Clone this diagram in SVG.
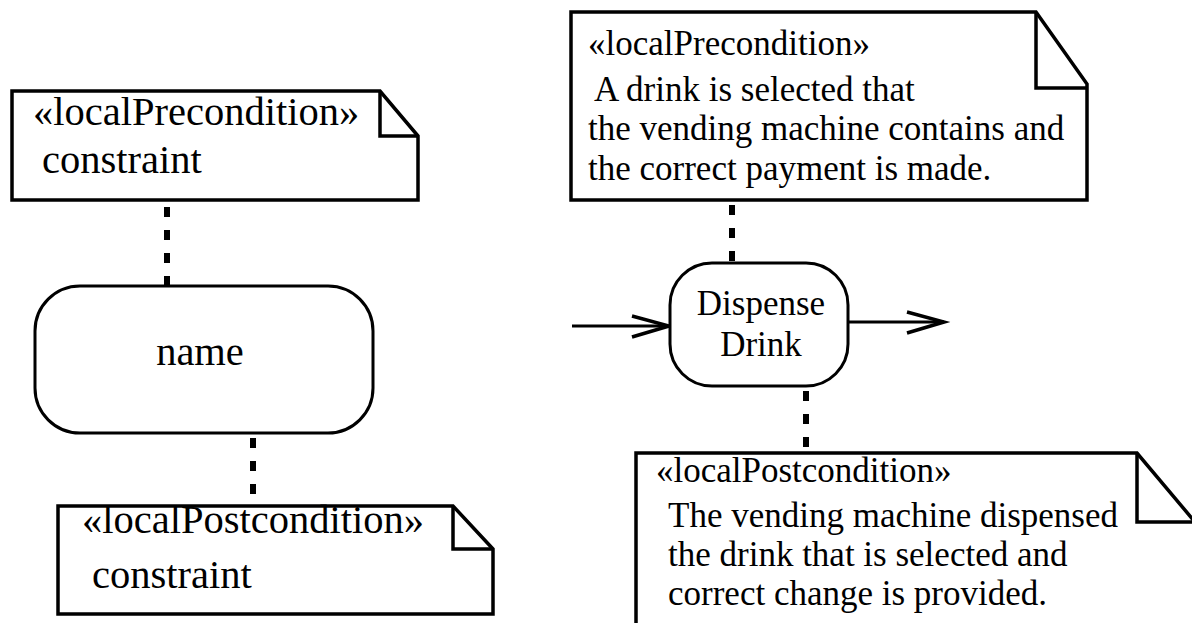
<svg xmlns="http://www.w3.org/2000/svg" width="1192" height="623" viewBox="0 0 1192 623">
<style>
.note{fill:#fff;stroke:#000;stroke-width:3.5;stroke-linejoin:miter}
.fold{fill:none;stroke:#000;stroke-width:3.5}
.act{fill:#fff;stroke:#000;stroke-width:3}
.dot{fill:none;stroke:#000;stroke-width:6;stroke-dasharray:10 13}
.flow{fill:none;stroke:#000;stroke-width:3}
.head{fill:none;stroke:#000;stroke-width:3.5;stroke-linejoin:miter}
text{font-family:'Liberation Serif','Times New Roman',serif;fill:#000}
.tl{font-size:40.5px}
.tr{font-size:35px}
</style>
<g id="connectors">
<line class="dot" x1="167" y1="207" x2="167" y2="286"/>
<line class="dot" x1="253" y1="438" x2="253" y2="506"/>
<line class="dot" x1="732" y1="205" x2="732" y2="263"/>
<line class="dot" x1="806" y1="391" x2="806" y2="452"/>
<line class="flow" x1="572" y1="326" x2="668" y2="326"/>
<polyline class="head" points="632,316 669,326 632,337"/>
<line class="flow" x1="848" y1="322" x2="944" y2="322"/>
<polyline class="head" points="907,312 944,322 907,333"/>
</g>
<g id="note-pre-left">
<path class="note" d="M12,91 H380 L418,136 V200 H12 Z"/>
<path class="fold" d="M380,91 V136 H418"/>
<text class="tl" x="33" y="125">«localPrecondition»</text>
<text class="tl" x="42" y="173">constraint</text>
</g>
<g id="action-name">
<rect class="act" x="35" y="286" width="338" height="147" rx="45" ry="45"/>
<text class="tl" x="200" y="365" text-anchor="middle">name</text>
</g>
<g id="note-post-left">
<path class="note" d="M58,506 H453 L493,549 V614 H58 Z"/>
<path class="fold" d="M453,506 V549 H493"/>
<text class="tl" x="82" y="533">«localPostcondition»</text>
<text class="tl" x="92" y="588">constraint</text>
</g>
<g id="note-pre-right">
<path class="note" d="M571,12 H1036 L1087,84 V200 H571 Z"/>
<path class="fold" d="M1036,12 V88 H1087"/>
<text class="tr" x="588" y="55">«localPrecondition»</text>
<text class="tr" x="594" y="101">A drink is selected that</text>
<text class="tr" x="588" y="140">the vending machine contains and</text>
<text class="tr" x="588" y="180">the correct payment is made.</text>
</g>
<g id="action-dispense">
<rect class="act" x="670" y="263" width="178" height="123" rx="42" ry="42"/>
<text class="tr" x="761" y="315" text-anchor="middle">Dispense</text>
<text class="tr" x="761" y="356" text-anchor="middle">Drink</text>
</g>
<g id="note-post-right">
<path class="note" d="M636,453 H1137 L1195,522 V630 H636 Z"/>
<path class="fold" d="M1137,453 V522 H1195"/>
<text class="tr" x="656" y="482">«localPostcondition»</text>
<text class="tr" x="668" y="527">The vending machine dispensed</text>
<text class="tr" x="668" y="566">the drink that is selected and</text>
<text class="tr" x="668" y="605">correct change is provided.</text>
</g>
</svg>
